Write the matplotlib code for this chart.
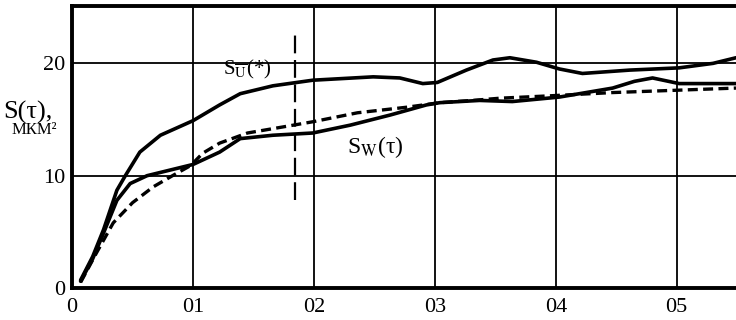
import numpy as np
import matplotlib.pyplot as plt

plt.rcParams['font.family'] = ['Liberation Serif', 'DejaVu Serif']
plt.rcParams['mathtext.fontset'] = 'stix'

# upper solid curve  S_U(*)
su_t = [0.07, 0.17, 0.26, 0.37, 0.44, 0.56, 0.73, 1.0, 1.22, 1.39, 1.66, 1.99, 2.49,
        2.71, 2.90, 3.02, 3.26, 3.48, 3.62, 3.84, 4.03, 4.22, 4.61, 5.02, 5.30, 5.49]
su_v = [0.7, 2.8, 5.2, 8.7, 10.0, 12.1, 13.6, 14.9, 16.3, 17.3, 18.0, 18.5, 18.8,
        18.7, 18.2, 18.3, 19.4, 20.3, 20.5, 20.1, 19.5, 19.1, 19.4, 19.6, 20.0, 20.5]

# lower solid curve  S_W(tau)
sw_t = [0.07, 0.17, 0.26, 0.37, 0.48, 0.62, 0.81, 1.0, 1.08, 1.22, 1.39, 1.66, 1.99,
        2.30, 2.63, 2.93, 3.04, 3.37, 3.64, 4.03, 4.47, 4.65, 4.80, 5.02, 5.49]
sw_v = [0.6, 2.6, 4.9, 7.8, 9.3, 10.0, 10.5, 11.0, 11.4, 12.1, 13.3, 13.6, 13.8,
        14.5, 15.4, 16.3, 16.5, 16.7, 16.6, 17.0, 17.8, 18.4, 18.7, 18.2, 18.2]

# dashed curve
sd_t = [0.07, 0.20, 0.34, 0.50, 0.67, 0.83, 0.98, 1.08, 1.22, 1.45, 1.83, 1.99,
        2.36, 2.77, 3.04, 3.31, 3.54, 3.93, 4.47, 5.49]
sd_v = [0.5, 3.1, 5.8, 7.6, 9.0, 10.0, 10.9, 12.0, 12.9, 13.8, 14.5, 14.8,
        15.6, 16.1, 16.5, 16.7, 16.9, 17.1, 17.4, 17.8]

# vertical marker
mark_t = 1.84
mark_lo, mark_hi = 7.8, 22.7

xticks = [0, 1, 2, 3, 4, 5]
xlabels = ['0', '01', '02', '03', '04', '05']
yticks = [0, 10, 20]

fig = plt.figure(figsize=(7.36, 3.2), dpi=100)
ax = fig.add_axes([0.098, 0.1, 0.902, 0.881])

ax.plot(su_t, su_v, color='black', lw=2.6, solid_capstyle='round', solid_joinstyle='round')
ax.plot(sw_t, sw_v, color='black', lw=2.6, solid_capstyle='round', solid_joinstyle='round')
ax.plot(sd_t, sd_v, color='black', lw=2.4, ls=(0, (3, 1.6)))
ax.plot([mark_t, mark_t], [mark_lo, mark_hi], color='black', lw=1.6, ls=(0, (8, 3)))

ax.set_xlim(0, 5.49)
ax.set_ylim(0, 25.1)
ax.set_xticks(xticks)
ax.set_xticklabels(xlabels, fontsize=16)
ax.set_yticks(yticks)
ax.set_yticklabels([str(v) for v in yticks], fontsize=16)
ax.tick_params(axis='x', length=0, pad=7)
ax.tick_params(axis='y', length=0, pad=5)
ax.grid(color='black', lw=1.3)

for s in ['left', 'bottom', 'top']:
    ax.spines[s].set_linewidth(2.8)
ax.spines['right'].set_visible(False)

ax.text(1.25, 19.0, r'S$_{\overline{\mathrm{U}}}$(*)', fontsize=15)
ax.text(2.27, 12.0, r'S$_{\mathrm{W}}$(τ)', fontsize=17)

fig.text(0.005, 0.65, 'S(τ),', fontsize=19, va='center')
fig.text(0.015, 0.594, 'МКМ²', fontsize=12, va='center')

plt.savefig('out.png', dpi=100)
